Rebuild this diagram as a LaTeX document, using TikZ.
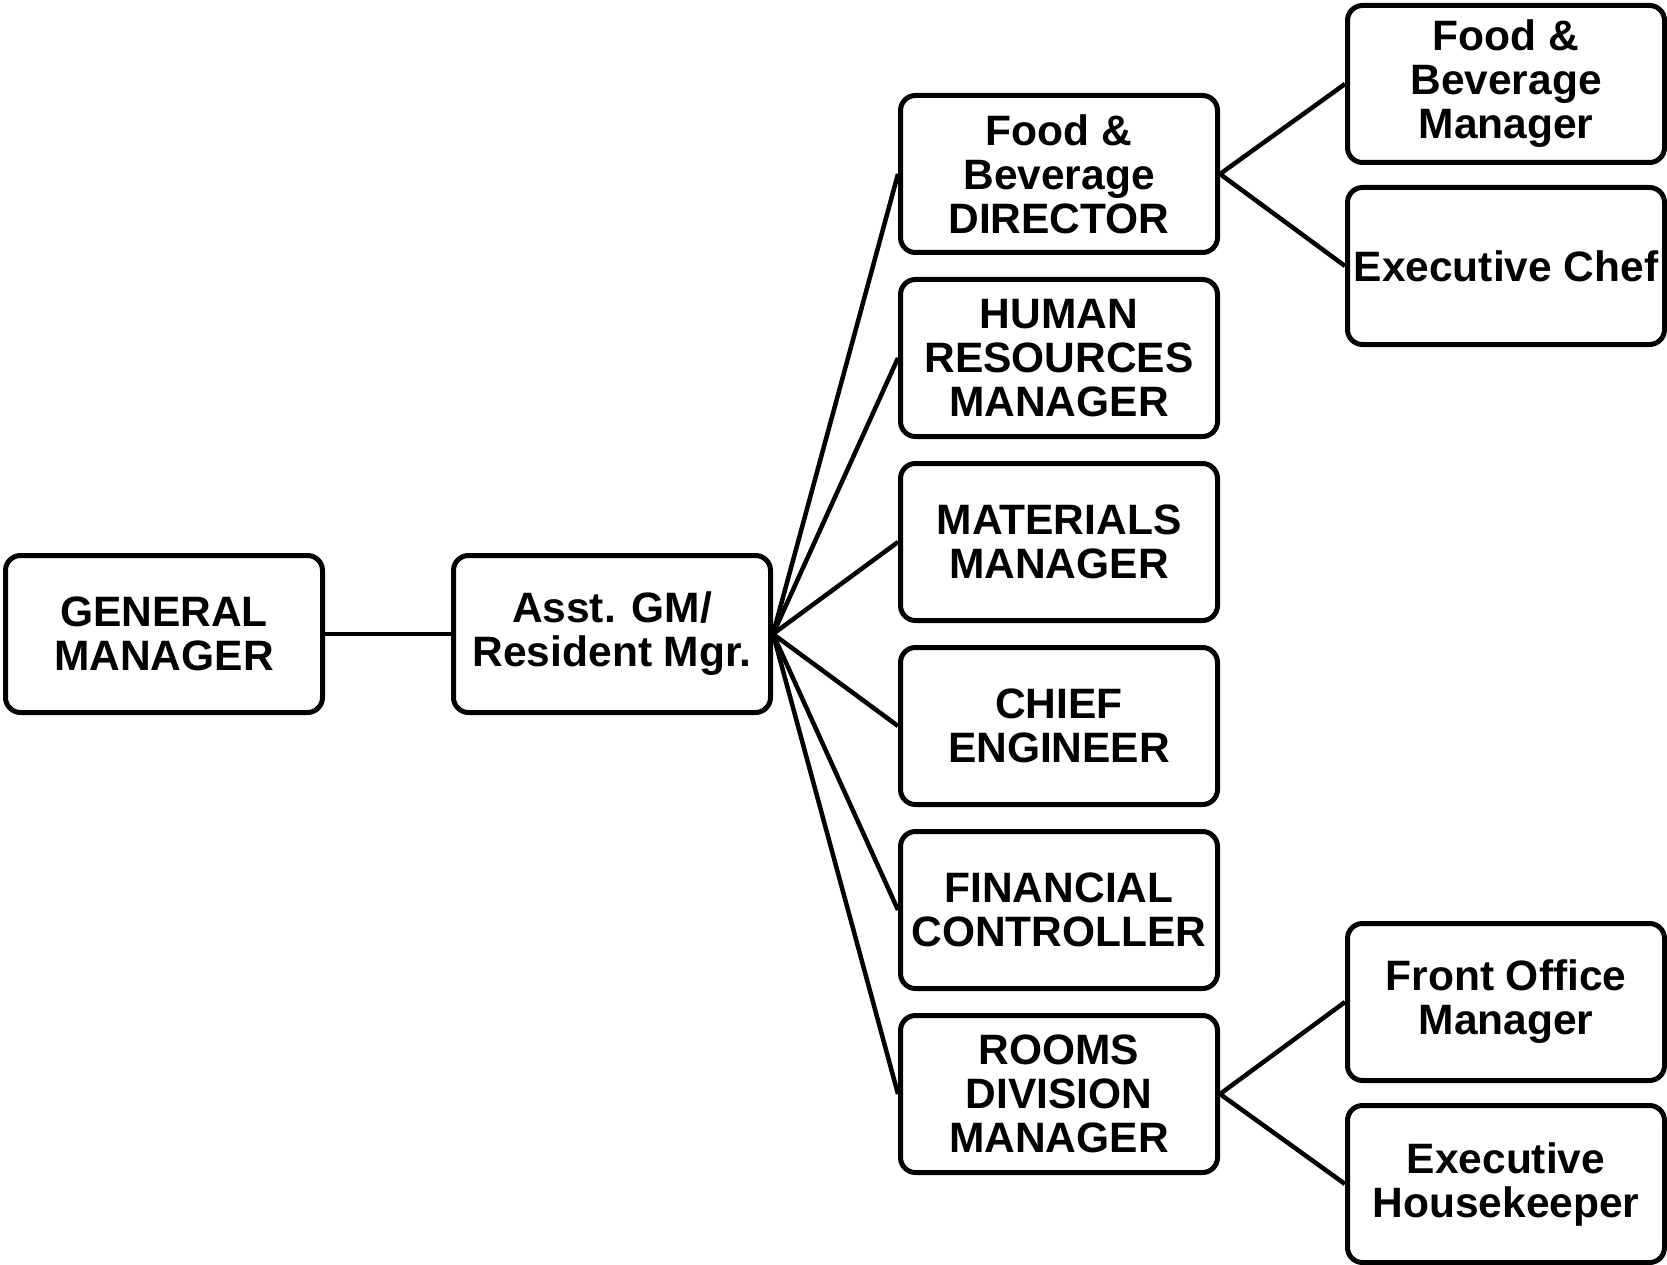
\documentclass[tikz,border=0pt]{standalone}
\usepackage{fontspec}
\setmainfont{Liberation Sans}
\begin{document}
\begin{tikzpicture}[x=1pt,y=-1pt,
  box/.style={draw=black, line width=5pt, rounded corners=15pt, fill=white,
    minimum width=317pt, minimum height=157pt, inner sep=0pt,
    align=center, font=\fontsize{42.5}{44}\selectfont\bfseries},
  link/.style={draw=black, line width=4.5pt}]
\useasboundingbox (0,0) rectangle (1667,1265);
\node[box] (gm) at (164,634) {GENERAL\\MANAGER};
\node[box] (agm) at (612,634) {Asst. GM/\\Resident Mgr.};
\node[box] (fbd) at (1059,174) {Food \&\\Beverage\\DIRECTOR};
\node[box] (hr) at (1059,358) {HUMAN\\RESOURCES\\MANAGER};
\node[box] (mat) at (1059,542) {MATERIALS\\MANAGER};
\node[box] (ce) at (1059,726) {CHIEF\\ENGINEER};
\node[box] (fc) at (1059,910) {FINANCIAL\\CONTROLLER};
\node[box] (rdm) at (1059,1094) {ROOMS\\DIVISION\\MANAGER};
\node[box] (fbm) at (1506,84) {Food \&\\Beverage\\Manager};
\node[box] (chef) at (1506,266) {Executive Chef};
\node[box] (fom) at (1506,1002) {Front Office\\Manager};
\node[box] (hk) at (1506,1184) {Executive\\Housekeeper};
\draw[link] (gm.east) -- (agm.west);
\foreach \n in {fbd,hr,mat,ce,fc,rdm} \draw[link] (agm.east) -- (\n.west);
\draw[link] (fbd.east) -- (fbm.west);
\draw[link] (fbd.east) -- (chef.west);
\draw[link] (rdm.east) -- (fom.west);
\draw[link] (rdm.east) -- (hk.west);
\end{tikzpicture}
\end{document}
